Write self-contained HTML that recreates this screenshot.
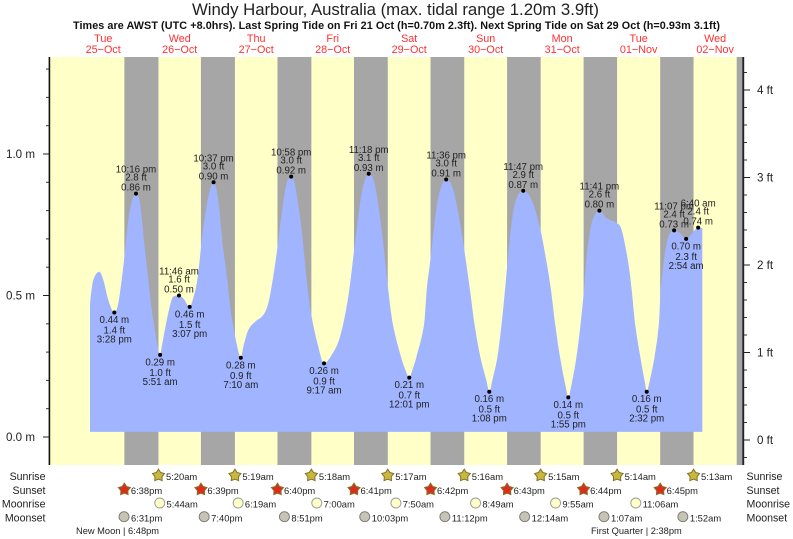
<!DOCTYPE html>
<html lang="en">
<head>
<meta charset="utf-8">
<title>Windy Harbour tide chart</title>
<style>
html,body{margin:0;padding:0;background:#fff;width:793px;height:539px;overflow:hidden}
svg{display:block}
text{font-family:"Liberation Sans",Arial,sans-serif;fill:#222}
</style>
</head>
<body>
<svg id="chart" xmlns="http://www.w3.org/2000/svg" width="793" height="539" viewBox="0 0 793 539">
<text x="395.5" y="15" text-anchor="middle" font-size="16.8" textLength="407" lengthAdjust="spacing">Windy Harbour, Australia (max. tidal range 1.20m 3.9ft)</text>
<text x="396.5" y="29" text-anchor="middle" font-size="10.8" font-weight="bold" style="fill:#111" textLength="647" lengthAdjust="spacing">Times are AWST (UTC +8.0hrs). Last Spring Tide on Fri 21 Oct (h=0.70m 2.3ft). Next Spring Tide on Sat 29 Oct (h=0.93m 3.1ft)</text>
<g id="plot"></g>
<text x="76" y="534" font-size="9.3">New Moon | 6:48pm</text>
<text x="591" y="534" font-size="9.3">First Quarter | 2:38pm</text>
</svg>
<script>
// Time values are hours since 25-Oct 00:00 (AWST)
const dayNames = ["Tue","Wed","Thu","Fri","Sat","Sun","Mon","Tue","Wed"];
const dayDates = ["25−Oct","26−Oct","27−Oct","28−Oct","29−Oct","30−Oct","31−Oct","01−Nov","02−Nov"];

const sunriseHours = [29.33,53.32,77.30,101.28,125.27,149.25,173.23,197.22];
const sunriseLabels = ["5:20am","5:19am","5:18am","5:17am","5:16am","5:15am","5:14am","5:13am"];
const sunsetHours = [18.63,42.65,66.67,90.68,114.70,138.72,162.73,186.75];
const sunsetLabels = ["6:38pm","6:39pm","6:40pm","6:41pm","6:42pm","6:43pm","6:44pm","6:45pm"];
const finalSunsetHour = 210.77;
const moonriseHours = [29.73,54.32,79.00,103.83,128.82,153.92,179.10];
const moonriseLabels = ["5:44am","6:19am","7:00am","7:50am","8:49am","9:55am","11:06am"];
const moonsetHours = [18.52,43.67,68.85,94.05,119.20,144.23,169.12,193.87];
const moonsetLabels = ["6:31pm","7:40pm","8:51pm","10:03pm","11:12pm","12:14am","1:07am","1:52am"];

const metreTickValues = [0,0.5,1];
const metreTickLabels = ["0.0 m","0.5 m","1.0 m"];
const metreMinorTicks = [-0.1,0.1,0.2,0.3,0.4,0.6,0.7,0.8,0.9,1.1,1.2,1.3];
const feetTickValues = [0,1,2,3,4];
const feetTickLabels = ["0 ft","1 ft","2 ft","3 ft","4 ft"];
const feetMinorTicks = [-0.2,0.2,0.4,0.6,0.8,1.2,1.4,1.6,1.8,2.2,2.4,2.6,2.8,3.2,3.4,3.6,3.8,4.2,4.4,4.6];

const tideHours = [7.84,8.06,8.88,10.76,12.02,13.59,15.47,16.72,18.29,19.86,21.24,22.27,23.53,25.10,
26.14,27.39,29.09,29.85,30.34,32.41,33.98,35.77,37.12,39.12,40.07,41.51,43.30,44.96,46.62,48.10,49.58,
50.93,52.09,54.06,55.17,55.95,57.52,59.62,62.22,63.79,65.17,66.43,68.00,69.57,70.97,72.20,74.27,
75.84,77.19,79.48,81.28,83.68,86.29,88.89,91.00,93.10,95.30,97.27,99.37,
101.44,102.82,105.40,106.80,108.02,109.00,110.30,112.74,113.49,114.53,116.63,118.20,119.60,121.84,124.47,
127.08,128.43,130.30,132.20,133.13,134.10,135.70,137.03,138.06,139.63,141.20,143.78,146.44,149.05,151.15,
152.49,153.75,155.30,157.10,157.92,158.80,160.50,161.81,162.85,163.70,165.26,167.68,169.97,173.11,174.68,176.75,
177.82,178.85,180.50,182.00,182.53,183.30,185.00,186.38,186.91,188.80,191.12,192.97,194.90,197.14,198.67,199.97];
const tideMetres = [0.466,0.496,0.555,0.584,0.555,0.484,0.44,0.472,0.602,0.767,0.843,0.86,0.827,0.661,
0.555,0.438,0.319,0.29,0.319,0.438,0.496,0.50,0.49,0.46,0.484,0.555,0.731,0.849,0.90,0.837,0.672,
0.555,0.438,0.319,0.28,0.319,0.378,0.407,0.431,0.472,0.555,0.65,0.792,0.898,0.92,0.89,0.731,
0.555,0.438,0.319,0.26,0.29,0.354,0.496,0.686,0.862,0.93,0.89,0.731,
0.519,0.402,0.284,0.237,0.21,0.237,0.284,0.403,0.519,0.615,0.814,0.89,0.91,0.873,0.721,
0.519,0.403,0.284,0.201,0.16,0.201,0.284,0.403,0.519,0.708,0.827,0.87,0.837,0.739,0.615,
0.519,0.403,0.284,0.178,0.14,0.178,0.284,0.403,0.519,0.637,0.756,0.80,0.773,0.756,0.731,0.615,
0.519,0.403,0.284,0.19,0.16,0.19,0.284,0.403,0.519,0.686,0.73,0.721,0.70,0.725,0.74,0.738];
const tideFloorMetres = 0.018;

const extremeHours = [15.47,22.27,29.85,35.77,39.12,46.62,55.17,70.97,81.28,95.30,108.02,119.60,133.13,143.78,157.92,167.68,182.53,191.12,194.90,198.67];
const extremeMetres = [0.44,0.86,0.29,0.50,0.46,0.90,0.28,0.92,0.26,0.93,0.21,0.91,0.16,0.87,0.14,0.80,0.16,0.73,0.70,0.74];
const extremeFeet = ["1.4 ft","2.8 ft","1.0 ft","1.6 ft","1.5 ft","3.0 ft","0.9 ft","3.0 ft","0.9 ft","3.1 ft","0.7 ft","3.0 ft","0.5 ft","2.9 ft","0.5 ft","2.6 ft","0.5 ft","2.4 ft","2.3 ft","2.4 ft"];
const extremeTimes = ["3:28 pm","10:16 pm","5:51 am","11:46 am","3:07 pm","10:37 pm","7:10 am","10:58 pm","9:17 am","11:18 pm","12:01 pm","11:36 pm","1:08 pm","11:47 pm","1:55 pm","11:41 pm","2:32 pm","11:07 pm","2:54 am","6:40 am"];
const extremeIsHigh = [false,true,false,true,false,true,false,true,false,true,false,true,false,true,false,true,false,true,false,true];

const xOf = h => 65 + 3.187 * h;
const yOfMetres = m => 437 - 283 * m;
const yOfFeet = ft => 440 - 87.5 * ft;
const plotLeft = 50, plotRight = 742, plotTop = 57, plotBottom = 465;

const NS = "http://www.w3.org/2000/svg";
const plot = document.getElementById("plot");
function make(tag, attrs, parent, content) {
  const el = document.createElementNS(NS, tag);
  for (const k in attrs) el.setAttribute(k, attrs[k]);
  if (content !== undefined) el.textContent = content;
  (parent || plot).appendChild(el);
  return el;
}
let el;

// Background and day/night bands
el = make("rect", {x: plotLeft, y: plotTop, width: plotRight - plotLeft, height: plotBottom - plotTop, fill: "#ffffc8"});


sunsetHours.forEach((s, i) => {
  const a = xOf(s), b = xOf(sunriseHours[i]);
  const band = make("rect", {x: a, y: plotTop, width: b - a, height: plotBottom - plotTop, fill: "#a6a6a6"});
  
  
});
el = make("rect", {x: xOf(finalSunsetHour), y: plotTop, width: plotRight - xOf(finalSunsetHour), height: plotBottom - plotTop, fill: "#a6a6a6"});



// Tide area: smooth cubic through the readings (centred tangents, flat at turning points)
function smoothPath(xs, ys) {
  const n = xs.length, d = [], t = [];
  for (let i = 0; i < n - 1; i++) d.push((ys[i + 1] - ys[i]) / (xs[i + 1] - xs[i]));
  t[0] = d[0];
  t[n - 1] = d[n - 2];
  for (let i = 1; i < n - 1; i++) {
    if (d[i - 1] * d[i] <= 0) { t[i] = 0; continue; }
    const c = (ys[i + 1] - ys[i - 1]) / (xs[i + 1] - xs[i - 1]);
    const lim = 3 * Math.min(Math.abs(d[i - 1]), Math.abs(d[i]));
    t[i] = Math.sign(c) * Math.min(Math.abs(c), lim);
  }
  let p = "L" + xs[0].toFixed(2) + " " + ys[0].toFixed(2);
  for (let i = 0; i < n - 1; i++) {
    const h = (xs[i + 1] - xs[i]) / 3;
    p += "C" + (xs[i] + h).toFixed(2) + " " + (ys[i] + t[i] * h).toFixed(2) + " " +
         (xs[i + 1] - h).toFixed(2) + " " + (ys[i + 1] - t[i + 1] * h).toFixed(2) + " " +
         xs[i + 1].toFixed(2) + " " + ys[i + 1].toFixed(2);
  }
  return p;
}
const tx = tideHours.map(xOf), ty = tideMetres.map(yOfMetres), floorY = yOfMetres(tideFloorMetres);
el = make("path", {d: "M" + tx[0].toFixed(2) + " " + floorY + smoothPath(tx, ty) + "L" + tx[tx.length - 1].toFixed(2) + " " + floorY + "Z", fill: "#a0b4ff"});



// Axes
el = make("line", {x1: 49.4, x2: 49.4, y1: plotTop, y2: plotBottom, stroke: "#111", "stroke-width": 1.6});


el = make("line", {x1: 743.2, x2: 743.2, y1: plotTop, y2: plotBottom, stroke: "#222", "stroke-width": 2});



metreTickValues.forEach((v, i) => {
  const y = yOfMetres(v);
  const tick = make("line", {x1: 43, x2: 49, y1: y, y2: y, stroke: "#222", "stroke-width": 1});
  
  
  const label = make("text", {x: 35, y: y + 4, "text-anchor": "end", "font-size": 11.6}, plot, metreTickLabels[i]);
  
  
});
metreMinorTicks.forEach(v => {
  const y = yOfMetres(v);
  if (y > plotBottom - 0.5) return;
  const tick = make("line", {x1: 46, x2: 49, y1: y, y2: y, stroke: "#333", "stroke-width": 1});
  
  
});
feetTickValues.forEach((v, i) => {
  const y = yOfFeet(v);
  const tick = make("line", {x1: 744, x2: 750, y1: y, y2: y, stroke: "#222", "stroke-width": 1});
  
  
  const label = make("text", {x: 757, y: y + 4, "font-size": 11.6}, plot, feetTickLabels[i]);
  
  
});
feetMinorTicks.forEach(v => {
  const y = yOfFeet(v);
  if (y < plotTop) return;
  const tick = make("line", {x1: 744, x2: 747, y1: y, y2: y, stroke: "#333", "stroke-width": 1});
  
  
});

// Day headers
dayNames.forEach((name, i) => {
  const cx = xOf(12 + 24 * i);
  const t1 = make("text", {x: cx, y: 42, "text-anchor": "middle", "font-size": 10.8, style: "fill:#ff3030"}, plot, name);
  
  
  const t2 = make("text", {x: cx, y: 53, "text-anchor": "middle", "font-size": 10.8, style: "fill:#ff3030"}, plot, dayDates[i]);
  
  
});

// Tide extremes
extremeHours.forEach((h, i) => {
  const x = xOf(h), y = yOfMetres(extremeMetres[i]);
  const off = extremeIsHigh[i] ? [-3, -13, -21] : [10.5, 21, 30];
  const dot = make("circle", {cx: x, cy: y, r: 2, fill: "#000"});
  
  
  const mText = make("text", {x: x, y: y + off[0], "text-anchor": "middle", "font-size": 9.7}, plot, extremeMetres[i].toFixed(2) + " m");
  
  
  const ftText = make("text", {x: x, y: y + off[1], "text-anchor": "middle", "font-size": 9.7}, plot, extremeFeet[i]);
  
  
  const timeText = make("text", {x: x, y: y + off[2], "text-anchor": "middle", "font-size": 9.7}, plot, extremeTimes[i]);
  
  
});

// Almanac rows
function starPoints(cx, cy, r) {
  let p = [];
  for (let k = 0; k < 10; k++) {
    const rad = k % 2 ? r * 0.58 : r, a = -Math.PI / 2 + k * Math.PI / 5;
    p.push((cx + rad * Math.cos(a)).toFixed(2) + "," + (cy + rad * Math.sin(a)).toFixed(2));
  }
  return p.join(" ");
}
sunriseHours.forEach((h, i) => {
  const x = xOf(h);
  const star = make("polygon", {points: starPoints(x, 475.5, 6.3), fill: "#c6ba3e", stroke: "#8a6f2a", "stroke-width": 1});
  
  
  const t = make("text", {x: x + 7.5, y: 480, "font-size": 9.4}, plot, sunriseLabels[i]);
  
  
});
sunsetHours.forEach((h, i) => {
  const x = xOf(h);
  const star = make("polygon", {points: starPoints(x, 489.5, 6.3), fill: "#dc2c1c", stroke: "#8a6f2a", "stroke-width": 1});
  
  
  const t = make("text", {x: x + 6.5, y: 494, "font-size": 9.4}, plot, sunsetLabels[i]);
  
  
});
moonriseHours.forEach((h, i) => {
  const x = xOf(h);
  const c = make("circle", {cx: x, cy: 503, r: 5, fill: "#ffffc8", stroke: "#999", "stroke-width": 0.9});
  
  
  const t = make("text", {x: x + 6.8, y: 507.5, "font-size": 9.4}, plot, moonriseLabels[i]);
  
  
});
moonsetHours.forEach((h, i) => {
  const x = xOf(h);
  const c = make("circle", {cx: x, cy: 516.7, r: 5, fill: "#c6c4b2", stroke: "#777", "stroke-width": 0.9});
  
  
  const t = make("text", {x: x + 7, y: 521.5, "font-size": 9.4}, plot, moonsetLabels[i]);
  
  
});
const rowNames = ["Sunrise","Sunset","Moonrise","Moonset"];
const rowBaselines = [480,494,507.5,521.5];
rowNames.forEach((name, i) => {
  const left = make("text", {x: 45.5, y: rowBaselines[i], "text-anchor": "end", "font-size": 10.6}, plot, name);
  
  
  const right = make("text", {x: 746.5, y: rowBaselines[i], "font-size": 10.6}, plot, name);
  
  
});
</script>
</body>
</html>
